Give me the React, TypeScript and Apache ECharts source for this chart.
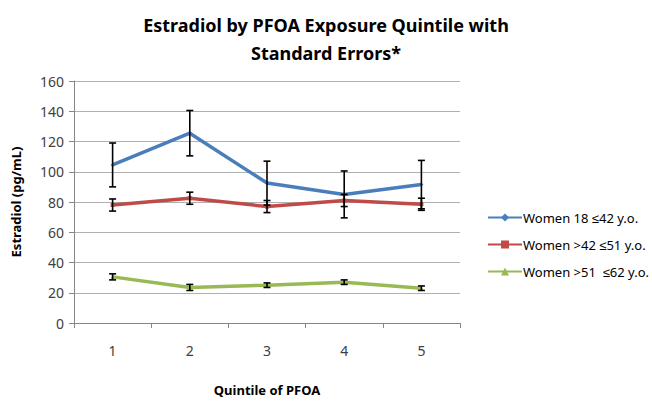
import React, { useEffect, useRef } from "react";
import * as echarts from "echarts";

const quintiles = ["1", "2", "3", "4", "5"];
const seriesNames = ["Women 18 \u226442 y.o.", "Women >42 \u226451 y.o.", "Women >51  \u226462 y.o."];
const youngMean = [104.5, 125.5, 92.5, 85, 91.5];
const youngSE = [14.5, 15, 14.5, 15.5, 16];
const midMean = [78, 82.5, 77, 81, 78.5];
const midSE = [4, 4, 4, 4, 4];
const oldMean = [30.5, 23.5, 25, 27, 23];
const oldSE = [2, 2, 1.5, 1.5, 1.5];
const yTicks = { min: 0, max: 160, interval: 20 };

const colors = ["#4a7ebb", "#be4b48", "#98b954"];
const symbols = ["diamond", "rect", "triangle"];
const FONT = "'Noto Sans', sans-serif";

function errData(mean: number[], se: number[]) {
  return mean.map((m, i) => [i, m - se[i], m + se[i]]);
}

export default function App() {
  const ref = useRef<HTMLDivElement>(null);
  useEffect(() => {
    if (!ref.current) return;
    const chart = echarts.init(ref.current, null, { renderer: "svg" });
    const means = [youngMean, midMean, oldMean];
    const ses = [youngSE, midSE, oldSE];
    const lineSeries = means.map((m, k) => ({
      name: seriesNames[k],
      type: "line",
      data: m,
      symbol: symbols[k],
      symbolSize: 4,
      showSymbol: true,
      lineStyle: { color: colors[k], width: 3.5 },
      itemStyle: { color: colors[k] },
      z: 2,
    }));
    const errSeries = means.map((m, k) => ({
      type: "custom",
      name: "err" + k,
      data: errData(m, ses[k]),
      encode: { x: 0, y: [1, 2] },
      z: 5,
      renderItem: (params: any, api: any) => {
        const x = api.value(0);
        const lo = api.coord([x, api.value(1)]);
        const hi = api.coord([x, api.value(2)]);
        const w = 3.5;
        const st = { stroke: "#000", lineWidth: 1.6 };
        return {
          type: "group",
          children: [
            { type: "line", shape: { x1: lo[0], y1: lo[1], x2: hi[0], y2: hi[1] }, style: st },
            { type: "line", shape: { x1: lo[0] - w, y1: lo[1], x2: lo[0] + w, y2: lo[1] }, style: st },
            { type: "line", shape: { x1: hi[0] - w, y1: hi[1], x2: hi[0] + w, y2: hi[1] }, style: st },
          ],
        };
      },
    }));
    chart.setOption({
      animation: false,
      title: {
        text: "Estradiol by PFOA Exposure Quintile with\nStandard Errors*",
        left: "center",
        top: 6,
        textStyle: { fontFamily: FONT, fontWeight: "bold", fontSize: 18, lineHeight: 28, color: "#000" },
      },
      legend: {
        data: seriesNames,
        orient: "vertical",
        left: 482,
        top: 206,
        itemWidth: 34,
        itemHeight: 10,
        itemGap: 14,
        textStyle: { fontFamily: FONT, fontSize: 13, color: "#000", padding: [0, 0, 0, -4] },
      },
      grid: { left: 74, right: 192, top: 81, bottom: 67, containLabel: false },
      xAxis: {
        type: "category",
        data: quintiles,
        boundaryGap: true,
        name: "Quintile of PFOA",
        nameLocation: "middle",
        nameGap: 60,
        nameTextStyle: { fontFamily: FONT, fontWeight: "bold", fontSize: 13, color: "#000" },
        axisLine: { lineStyle: { color: "#868686" } },
        axisTick: { show: true, length: 5, lineStyle: { color: "#868686" } },
        axisLabel: { fontFamily: FONT, fontSize: 14, color: "#404040", margin: 20 },
      },
      yAxis: {
        type: "value",
        min: yTicks.min,
        max: yTicks.max,
        interval: yTicks.interval,
        name: "Estradiol (pg/mL)",
        nameLocation: "middle",
        nameGap: 52,
        nameTextStyle: { fontFamily: FONT, fontWeight: "bold", fontSize: 13, color: "#000" },
        axisLine: { show: true, lineStyle: { color: "#868686" } },
        axisTick: { show: true, length: 5, lineStyle: { color: "#868686" } },
        axisLabel: { fontFamily: FONT, fontSize: 14, color: "#404040", margin: 10 },
        splitLine: { lineStyle: { color: "#b0b0b0" } },
      },
      series: [...lineSeries, ...errSeries],
    });
    return () => chart.dispose();
  }, []);
  return <div ref={ref} style={{ width: 652, height: 401, position: "absolute", left: 0, top: 0 }} />;
}
